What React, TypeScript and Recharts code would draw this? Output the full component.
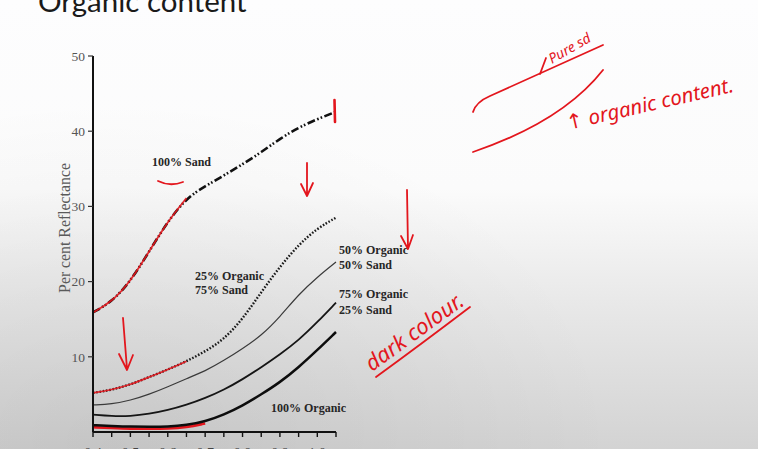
import React from 'react';
import { LineChart, Line, XAxis, YAxis } from 'recharts';

// Wavelength steps along the x axis, one reading per tick
const wavelengths = [0.4, 0.45, 0.5, 0.55, 0.6, 0.65, 0.7, 0.75, 0.8, 0.85, 0.9, 0.95, 1.0, 1.05];
const xTickLabels = ['0.4', '', '0.5', '', '0.6', '', '0.7', '', '0.8', '', '0.9', '', '1.0', ''];
const yTicks = [10, 20, 30, 40, 50];

// Per cent reflectance for each soil mixture
const sand100 = [15.9, 17.3, 20.0, 24.0, 28.0, 31.1, 32.7, 34.1, 35.6, 37.2, 39.0, 40.5, 41.6, 42.6];
const organic25 = [5.2, 5.6, 6.3, 7.3, 8.3, 9.4, 10.7, 12.3, 15.0, 18.6, 22.0, 24.9, 27.1, 28.5];
const organic50 = [3.6, 3.7, 4.2, 5.0, 6.0, 7.1, 8.1, 9.5, 11.1, 12.8, 15.3, 18.3, 20.6, 22.6];
const organic75 = [2.3, 2.1, 2.1, 2.4, 2.9, 3.6, 4.5, 5.6, 7.0, 8.6, 10.3, 12.2, 14.6, 17.2];
const organic100 = [0.9, 0.8, 0.7, 0.7, 0.7, 0.9, 1.4, 2.3, 3.5, 5.0, 6.6, 8.6, 10.9, 13.3];

// how many readings the red pen traced over
const traceLen = 6;
const traceLenBottom = 7;

const data = wavelengths.map((wl, i) => ({
  wl,
  sand100: sand100[i],
  organic25: organic25[i],
  organic50: organic50[i],
  organic75: organic75[i],
  organic100: organic100[i],
  sandTrace: i < traceLen ? sand100[i] : null,
  org25Trace: i < traceLen ? organic25[i] : null,
  org100Trace: i < traceLenBottom ? organic100[i] : null,
}));

const PEN = '#e3161d';
const serif = '"Liberation Serif", "Times New Roman", serif';
const hand = '"Noto Sans", "DejaVu Sans", sans-serif';

const labelStyle: React.CSSProperties = {
  fontFamily: serif,
  fontWeight: 700,
  fontSize: 12,
  fill: '#262626',
};

export default function App() {
  return (
    <div
      style={{
        position: 'absolute',
        left: 0,
        top: 0,
        width: 758,
        height: 449,
        overflow: 'hidden',
        background:
          'radial-gradient(ellipse at 15% 100%, rgba(0,0,0,0.07), rgba(0,0,0,0) 55%), linear-gradient(180deg, #fdfdfe 0%, #fbfbfb 42%, #e8e8e8 68%, #d3d3d3 100%)',
      }}
    >
      <style>{`.bottom-trace path { transform: translateY(2px); }`}</style>
      <div style={{ position: 'absolute', left: 0, top: 0 }}>
        <LineChart
          width={758}
          height={480}
          data={data}
          margin={{ top: 56, right: 422, bottom: 18, left: 53 }}
        >
          <XAxis
            type="number"
            dataKey="wl"
            domain={[0.4, 1.05]}
            ticks={wavelengths}
            interval={0}
            tickFormatter={(_v: number, i: number) => xTickLabels[i]}
            axisLine={{ stroke: '#111', strokeWidth: 2 }}
            tickLine={{ stroke: '#111', strokeWidth: 1.4 }}
            tickSize={5}
            tickMargin={11}
            height={30}
            tick={{ fill: '#444', fontSize: 14, fontFamily: serif }}
          />
          <YAxis
            type="number"
            domain={[0, 50]}
            ticks={yTicks}
            interval={0}
            width={40}
            axisLine={{ stroke: '#111', strokeWidth: 2 }}
            tickLine={{ stroke: '#333', strokeWidth: 1.2 }}
            tickSize={5}
            tickMargin={3}
            tick={{ fill: '#555', fontSize: 13.5, fontFamily: serif }}
          />
          <Line
            className="bottom-trace"
            dataKey="org100Trace"
            type="basis"
            stroke={PEN}
            strokeWidth={2.6}
            dot={false}
            connectNulls={false}
            isAnimationActive={false}
          />
          <Line
            dataKey="sand100"
            type="basis"
            stroke="#111"
            strokeWidth={2.6}
            strokeDasharray="8 2.5 1.6 2 1.6 2.5"
            dot={false}
            isAnimationActive={false}
          />
          <Line
            dataKey="organic25"
            type="basis"
            stroke="#1a1a1a"
            strokeWidth={2.4}
            strokeDasharray="1.6 1.7"
            dot={false}
            isAnimationActive={false}
          />
          <Line
            dataKey="organic50"
            type="basis"
            stroke="#3a3a3a"
            strokeWidth={1.2}
            dot={false}
            isAnimationActive={false}
          />
          <Line
            dataKey="organic75"
            type="basis"
            stroke="#151515"
            strokeWidth={1.8}
            dot={false}
            isAnimationActive={false}
          />
          <Line
            dataKey="organic100"
            type="basis"
            stroke="#0d0d0d"
            strokeWidth={2.5}
            dot={false}
            isAnimationActive={false}
          />
          <Line
            dataKey="sandTrace"
            type="basis"
            stroke={PEN}
            strokeWidth={1.8}
            strokeOpacity={0.9}
            dot={false}
            connectNulls={false}
            isAnimationActive={false}
          />
          <Line
            dataKey="org25Trace"
            type="basis"
            stroke={PEN}
            strokeWidth={1.7}
            strokeOpacity={0.9}
            dot={false}
            connectNulls={false}
            isAnimationActive={false}
          />
        </LineChart>
      </div>

      <svg
        width={758}
        height={449}
        style={{ position: 'absolute', left: 0, top: 0, pointerEvents: 'none' }}
      >
        {/* slide title, mostly above the visible area */}
        <text x={38} y={12} fontFamily="Lato, 'Open Sans', sans-serif" fontSize={29.5} fill="#1a1a1a">
          Organic content
        </text>

        {/* axis title */}
        <text
          transform="translate(70 228) rotate(-90)"
          textAnchor="middle"
          fontFamily={serif}
          fontSize={15.8}
          fill="#5a5a5a"
        >
          Per cent Reflectance
        </text>

        {/* curve labels */}
        <text x={152} y={166} style={labelStyle}>100% Sand</text>
        <text x={195} y={280} style={labelStyle}>25% Organic</text>
        <text x={195} y={294} style={labelStyle}>75% Sand</text>
        <text x={339} y={254} style={labelStyle}>50% Organic</text>
        <text x={339} y={269} style={labelStyle}>50% Sand</text>
        <text x={339} y={298} style={labelStyle}>75% Organic</text>
        <text x={339} y={314} style={labelStyle}>25% Sand</text>
        <text x={271} y={412} style={labelStyle}>100% Organic</text>

        {/* pen notes */}
        <g fill="none" stroke={PEN} strokeWidth={1.8} strokeLinecap="round" strokeLinejoin="round">
          <path d="M158 181 Q170 187 183 182" />
          <path d="M334.5 100 L335 122" strokeWidth={2.6} />
          <path d="M307 163 L307 195 M301 184 L307 196 L313 183" />
          <path d="M407 190 L408 248 M401 236 L408 249 L413 235" />
          <path d="M123 318 L127 369 M119 354 L127 370 L133 355" />
          <path d="M473 112 Q476 102 490 96 L603 45" />
          <path d="M540 74 L546 58" />
          <path d="M473 152 C520 136 570 112 603 70" />
          <path d="M376 377 Q420 345 470 307" />
        </g>
        <text
          transform="translate(552 64) rotate(-30)"
          fontFamily={hand}
          fontStyle="italic"
          fontSize={14}
          fill={PEN}
        >
          Pure sd
        </text>
        <text
          transform="translate(568 130) rotate(-13)"
          fontFamily={hand}
          fontStyle="italic"
          fontSize={20.5}
          fill={PEN}
        >
          ↑ organic content.
        </text>
        <text
          transform="translate(372 372) rotate(-36)"
          fontFamily={hand}
          fontStyle="italic"
          fontSize={22}
          fill={PEN}
        >
          dark colour.
        </text>
      </svg>
    </div>
  );
}
